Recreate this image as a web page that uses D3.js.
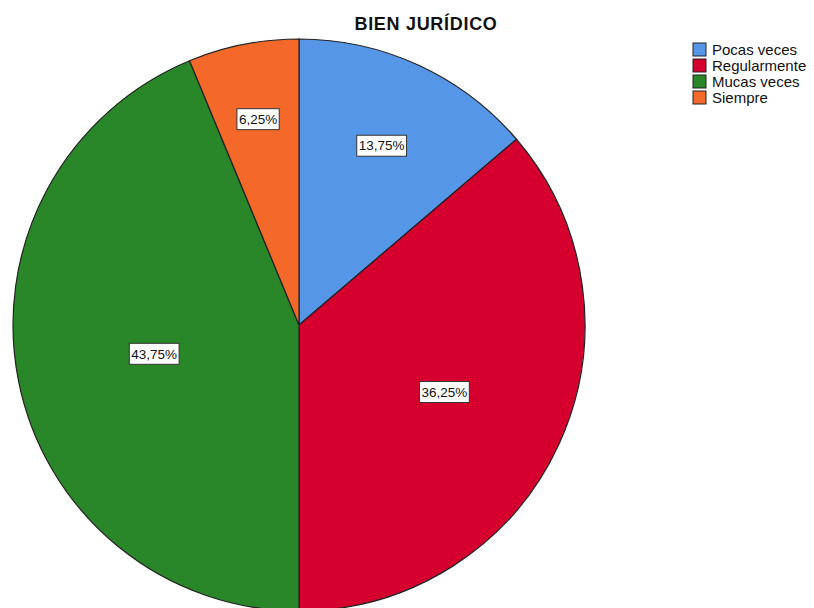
<!DOCTYPE html>
<html>
<head>
<meta charset="utf-8">
<script src="https://cdn.jsdelivr.net/npm/d3@7"></script>
<style>
  body { margin: 0; background: #fff; }
  text { font-family: "Liberation Sans", Arial, sans-serif; }
</style>
</head>
<body>
<div id="chart"></div>
<script>
var w = 814;
var h = 608;

// Categories and values (percent)
const categories = ["Pocas veces", "Regularmente", "Mucas veces", "Siempre"];
const values = [13.75, 36.25, 43.75, 6.25];
const labels = ["13,75%", "36,25%", "43,75%", "6,25%"];
const colors = ["#5596e6", "#d6002f", "#298729", "#f4692a"];
const title = "BIEN JURÍDICO";

function drawPie() {
    const cx = 299, cy = 325, r = 286;

    const svg = d3.select("#chart")
        .append("svg")
        .attr("width", w)
        .attr("height", h);

    svg.append("text")
        .attr("x", 426)
        .attr("y", 30)
        .attr("text-anchor", "middle")
        .attr("font-size", "18px")
        .attr("font-weight", "bold")
        .attr("letter-spacing", "0.7px")
        .attr("fill", "#111")
        .text(title);

    const pie = d3.pie().sort(null).value(d => d);
    const arcs = pie(values);
    const arc = d3.arc().innerRadius(0).outerRadius(r);

    const g = svg.append("g")
        .attr("transform", `translate(${cx}, ${cy})`);

    g.selectAll("path")
        .data(arcs)
        .enter()
        .append("path")
        .attr("d", arc)
        .attr("fill", (d, i) => colors[i])
        .attr("stroke", "#222")
        .attr("stroke-width", 1.2);

    // labels placed along the mid angle, smaller slices pushed further out
    const lab = g.selectAll("g.lab")
        .data(arcs)
        .enter()
        .append("g")
        .attr("class", "lab")
        .attr("transform", d => {
            const p = (d.endAngle - d.startAngle) / (2 * Math.PI);
            const mid = (d.startAngle + d.endAngle) / 2;
            const dist = r * (0.77 - 0.58 * p);
            return `translate(${dist * Math.sin(mid)}, ${-dist * Math.cos(mid)})`;
        });

    lab.append("text")
        .attr("text-anchor", "middle")
        .attr("dy", "0.35em")
        .attr("font-size", "13.5px")
        .attr("fill", "#111")
        .text((d, i) => labels[i])
        .each(function () {
            const b = this.getBBox();
            d3.select(this.parentNode).insert("rect", "text")
                .attr("x", b.x - 2)
                .attr("y", -10.5)
                .attr("width", b.width + 4)
                .attr("height", 21)
                .attr("fill", "#fff")
                .attr("stroke", "#333")
                .attr("stroke-width", 1);
        });

    // legend
    const leg = svg.append("g")
        .attr("transform", "translate(693, 43)");

    const item = leg.selectAll("g")
        .data(categories)
        .enter()
        .append("g")
        .attr("transform", (d, i) => `translate(0, ${i * 16})`);

    item.append("rect")
        .attr("width", 13)
        .attr("height", 13)
        .attr("fill", (d, i) => colors[i])
        .attr("stroke", "#222")
        .attr("stroke-width", 1);

    item.append("text")
        .attr("x", 19)
        .attr("y", 12)
        .attr("font-size", "15px")
        .attr("fill", "#111")
        .text(d => d);
}

drawPie();
</script>
</body>
</html>
